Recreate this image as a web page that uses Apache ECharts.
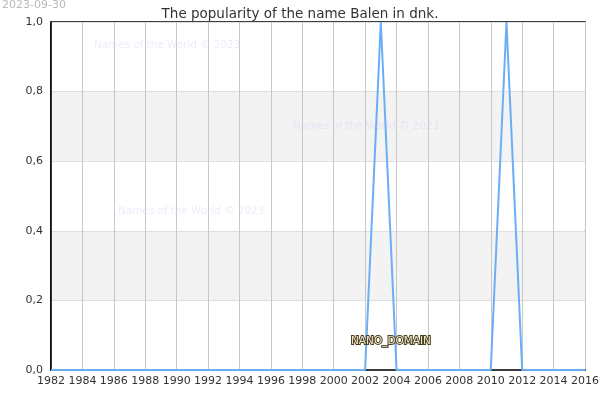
<!DOCTYPE html>
<html>
<head>
<meta charset="utf-8">
<script src="https://cdn.jsdelivr.net/npm/echarts@6/dist/echarts.min.js"></script>
<style>html,body{margin:0;padding:0;background:#fff}#c{width:600px;height:400px}</style>
</head>
<body>
<div id="c"></div>
<script>
var years = [1982,1983,1984,1985,1986,1987,1988,1989,1990,1991,1992,1993,1994,1995,1996,1997,1998,1999,2000,2001,2002,2003,2004,2005,2006,2007,2008,2009,2010,2011,2012,2013,2014,2015,2016];
var popularity = [0,0,0,0,0,0,0,0,0,0,0,0,0,0,0,0,0,0,0,0,0,1,0,0,0,0,0,0,0,1,0,0,0,0,0];
var titleText = 'The popularity of the name Balen in dnk.';
var dateText = '2023-09-30';
var watermarkText = 'Names of the World © 2023';
var domainText = 'NANO_DOMAIN';

var chart = echarts.init(document.getElementById('c'));
var F = 'DejaVu Sans';
chart.setOption({
  animation: false,
  textStyle: {fontFamily: F},
  title: {text: titleText, left: 'center', top: 2, textStyle: {fontFamily: F, fontSize: 13.5, fontWeight: 'normal', color: '#333'}},
  grid: {left: 51, right: 15, top: 22, bottom: 30, show: true, borderColor: '#000', borderWidth: 1.5, backgroundColor: 'transparent', containLabel: false, outerBoundsMode: 'none'},
  xAxis: {
    type: 'value', min: 1982, max: 2016, interval: 2,
    axisLine: {lineStyle: {color: '#000', width: 1.5}},
    axisTick: {show: false},
    axisLabel: {color: '#333', fontSize: 11, fontFamily: F, margin: 6, showMinLabel: true, showMaxLabel: true, hideOverlap: false, formatter: function(v){return String(v);}},
    splitLine: {show: true, lineStyle: {color: '#c8c8c8', width: 1}}
  },
  yAxis: {
    type: 'value', min: 0, max: 1, interval: 0.2,
    axisLine: {show: true, lineStyle: {color: '#000', width: 1.5}},
    axisTick: {show: false},
    axisLabel: {color: '#333', fontSize: 11, fontFamily: F, margin: 8, showMinLabel: true, showMaxLabel: true, formatter: function(v){return v.toFixed(1).replace('.', ',');}},
    splitLine: {show: true, lineStyle: {color: '#e0e0e0', width: 1}},
    splitArea: {show: true, areaStyle: {color: ['#ffffff', '#f3f3f3']}}
  },
  series: [{
    type: 'line',
    z: 3,
    data: years.map(function(y, i){return [y, popularity[i]];}),
    showSymbol: false,
    lineStyle: {color: '#6aaef5', width: 2},
    itemStyle: {color: '#6aaef5'}
  }],
  graphic: [
    {type: 'text', left: 2, top: 0, z: 50, style: {text: dateText, fill: '#bbbbbb', font: '11px "DejaVu Sans"'}},
    {type: 'text', left: 94, top: 40, z: 50, style: {text: watermarkText, fill: 'rgba(200,200,245,0.35)', font: '10.4px "DejaVu Sans"'}},
    {type: 'text', left: 293, top: 121, z: 50, style: {text: watermarkText, fill: 'rgba(200,200,245,0.35)', font: '10.4px "DejaVu Sans"'}},
    {type: 'text', left: 118, top: 206, z: 50, style: {text: watermarkText, fill: 'rgba(200,200,245,0.35)', font: '10.4px "DejaVu Sans"'}},
    {type: 'text', left: 350, top: 335, z: 60, style: {text: domainText, fill: '#f0e6c0', stroke: '#4a4028', lineWidth: 2, font: '10.5px "DejaVu Sans"'}}
  ]
});
</script>
</body>
</html>
